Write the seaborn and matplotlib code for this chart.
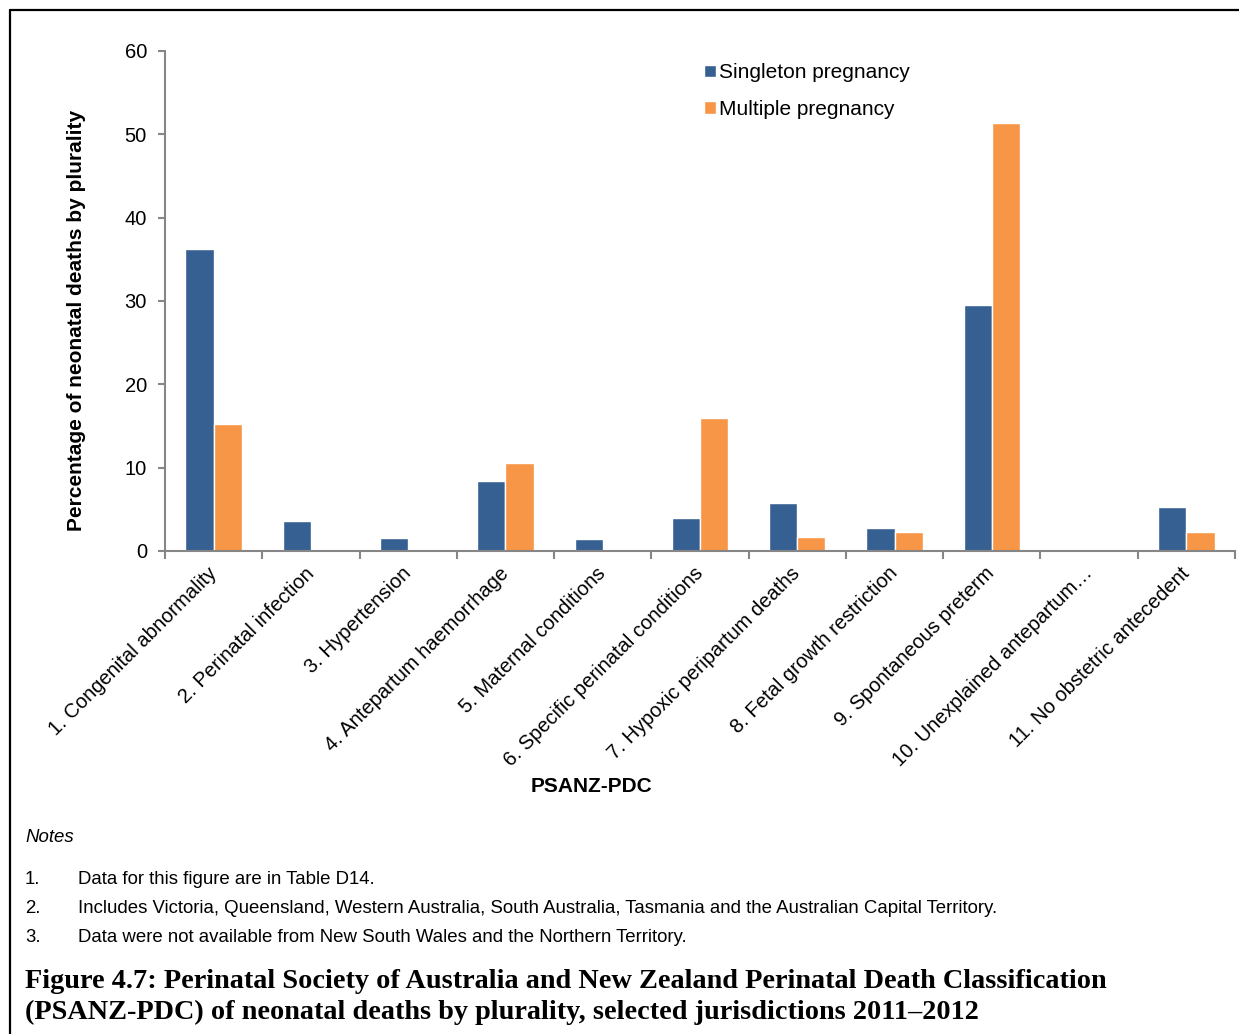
import matplotlib
matplotlib.use("Agg")
import matplotlib.pyplot as plt
from matplotlib.lines import Line2D
from matplotlib.ticker import FixedLocator
import seaborn as sns
import pandas as pd

# data
categories = [
    "1. Congenital abnormality",
    "2. Perinatal infection",
    "3. Hypertension",
    "4. Antepartum haemorrhage",
    "5. Maternal conditions",
    "6. Specific perinatal conditions",
    "7. Hypoxic peripartum deaths",
    "8. Fetal growth restriction",
    "9. Spontaneous preterm",
    "10. Unexplained antepartum\u2026",
    "11. No obstetric antecedent",
]
singleton = [36.2, 3.6, 1.6, 8.4, 1.4, 4.0, 5.8, 2.8, 29.5, 0.0, 5.3]
multiple = [15.2, 0.0, 0.0, 10.6, 0.0, 16.0, 1.7, 2.3, 51.4, 0.0, 2.3]
series_names = ["Singleton pregnancy", "Multiple pregnancy"]
colors = ["#376092", "#F79646"]

notes = [
    "Data for this figure are in Table D14.",
    "Includes Victoria, Queensland, Western Australia, South Australia, Tasmania and the Australian Capital Territory.",
    "Data were not available from New South Wales and the Northern Territory.",
]
caption = ("Figure 4.7: Perinatal Society of Australia and New Zealand Perinatal Death Classification\n"
           "(PSANZ-PDC) of neonatal deaths by plurality, selected jurisdictions 2011\u20132012")

df = pd.DataFrame({
    "category": categories * 2,
    "value": singleton + multiple,
    "series": [series_names[0]] * len(categories) + [series_names[1]] * len(categories),
})

sns.set_style("white")
plt.rcParams["font.family"] = ["Liberation Sans", "DejaVu Sans"]
plt.rcParams["text.color"] = "black"
plt.rcParams["xtick.color"] = "black"
plt.rcParams["ytick.color"] = "black"

W, H = 1239, 1034
fig = plt.figure(figsize=(W / 100, H / 100), dpi=100)
ax = fig.add_axes([165 / W, 1 - 551 / H, (1235 - 165) / W, (551 - 51) / H])

sns.barplot(data=df, x="category", y="value", hue="series", order=categories,
            hue_order=series_names, palette=colors, saturation=1, width=0.58,
            ax=ax, legend=True)

grey = "#868686"
fs = 14.5
ax.set_xlim(-0.5, len(categories) - 0.5)
ax.set_ylim(0, 60)
ax.set_yticks(range(0, 61, 10))
for side in ["top", "right"]:
    ax.spines[side].set_visible(False)
for side in ["left", "bottom"]:
    ax.spines[side].set_color(grey)
    ax.spines[side].set_linewidth(1.5)

ax.tick_params(axis="y", direction="out", length=5, width=1.5, color=grey,
               labelsize=fs, pad=8, left=True)
ax.tick_params(axis="x", which="major", length=0, labelsize=fs, pad=14)
ax.xaxis.set_minor_locator(FixedLocator([i - 0.5 for i in range(len(categories) + 1)]))
ax.tick_params(axis="x", which="minor", direction="out", length=6, width=1.5,
               color=grey, bottom=True)
ax.set_xticks(range(len(categories)))
ax.set_xticklabels(categories, rotation=45, ha="right", va="center",
                   rotation_mode="anchor")
ax.set_xlabel("")
ax.set_ylabel("")

leg = ax.legend(loc="upper left", bbox_to_anchor=(696 / W, 1 - 55 / H),
                bbox_transform=fig.transFigure, frameon=False, fontsize=15,
                handlelength=0.55, handleheight=0.55, handletextpad=0.15,
                labelspacing=0.85, borderaxespad=0)

fig.text(77 / W, 1 - 320 / H, "Percentage of neonatal deaths by plurality",
         rotation=90, ha="center", va="center", fontsize=15, fontweight="bold")
fig.text(592 / W, 1 - 786 / H, "PSANZ-PDC", ha="center", va="center",
         fontsize=15, fontweight="bold")

# notes and caption
nfs = 13.4
fig.text(25 / W, 1 - 838 / H, "Notes", ha="left", va="center", fontsize=nfs,
         style="italic")
for i, note in enumerate(notes):
    y = 1 - (879 + i * 29.5) / H
    fig.text(25 / W, y, f"{i + 1}.", ha="left", va="center", fontsize=nfs)
    fig.text(78 / W, y, note, ha="left", va="center", fontsize=nfs)
fig.text(25 / W, 1 - 997 / H, caption, ha="left", va="center", fontsize=20.3,
         fontweight="bold", family=["Liberation Serif", "DejaVu Serif"],
         linespacing=1.27)

# frame lines (top and left)
fig.add_artist(Line2D([10 / W, 1], [1 - 10 / H, 1 - 10 / H], color="black",
                      lw=1.6, transform=fig.transFigure))
fig.add_artist(Line2D([10 / W, 10 / W], [0, 1 - 10 / H], color="black",
                      lw=1.6, transform=fig.transFigure))

fig.savefig("out.png", dpi=100, facecolor="white")
